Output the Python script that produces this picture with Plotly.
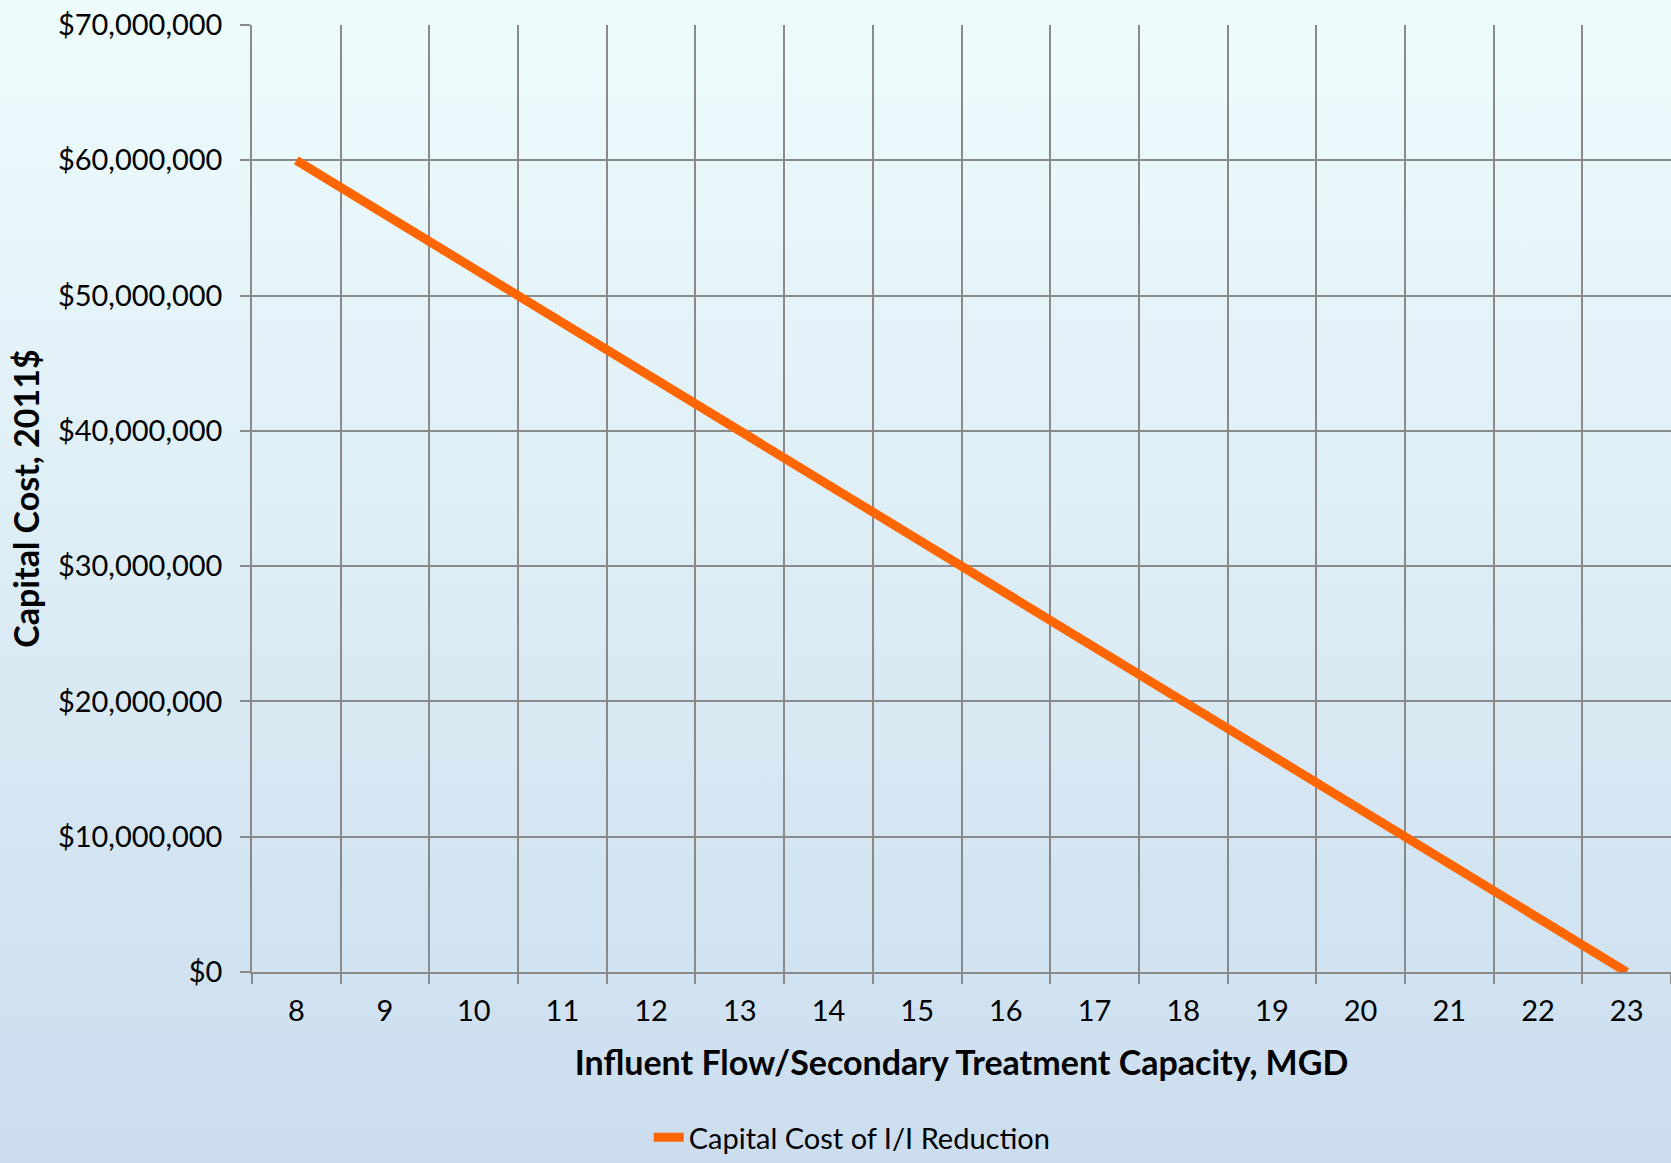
import base64
import plotly.graph_objects as go

# Influent flow (MGD) and corresponding capital cost of I/I reduction (2011$)
flow_mgd = ["8", "9", "10", "11", "12", "13", "14", "15", "16", "17", "18", "19", "20", "21", "22", "23"]
capital_cost = [60_000_000, 56_000_000, 52_000_000, 48_000_000, 44_000_000, 40_000_000,
                36_000_000, 32_000_000, 28_000_000, 24_000_000, 20_000_000, 16_000_000,
                12_000_000, 8_000_000, 4_000_000, 0]
series_name = "Capital Cost of I/I Reduction"

W, H = 1671, 1163
ML, MR, MT, MB = 252, 0, 25, 191
FONT = "Lato"
GRID = "#8a8a8a"
TICK_SIZE = 29
TITLE_SIZE = 34

# vertical background gradient as an inline svg
svg = (
    f'<svg xmlns="http://www.w3.org/2000/svg" width="{W}" height="{H}" preserveAspectRatio="none">'
    '<defs><linearGradient id="g" x1="0" y1="0" x2="0" y2="1">'
    '<stop offset="0" stop-color="#eefcfd"/><stop offset="1" stop-color="#cbddee"/>'
    '</linearGradient></defs>'
    f'<rect width="{W}" height="{H}" fill="url(#g)"/></svg>'
)
bg_src = "data:image/svg+xml;base64," + base64.b64encode(svg.encode()).decode()
pw, ph = W - ML - MR, H - MT - MB

fig = go.Figure()
fig.add_trace(go.Scatter(
    x=flow_mgd, y=capital_cost, mode="lines", name=series_name,
    line=dict(color="#ff6600", width=9),
))

fig.update_layout(
    width=W, height=H,
    margin=dict(l=ML, r=MR, t=MT, b=MB),
    paper_bgcolor="rgba(0,0,0,0)",
    plot_bgcolor="rgba(0,0,0,0)",
    font=dict(family=FONT, size=TICK_SIZE, color="#000000"),
    images=[dict(
        source=bg_src, xref="paper", yref="paper",
        x=-ML / pw, y=1 + MT / ph, sizex=W / pw, sizey=H / ph,
        xanchor="left", yanchor="top", sizing="stretch", layer="below",
    )],
    showlegend=True,
    legend=dict(
        orientation="h", xref="container", yref="container",
        x=0.51, xanchor="center", y=0.0, yanchor="bottom",
        bgcolor="rgba(0,0,0,0)", font=dict(family=FONT, size=TICK_SIZE),
    ),
    xaxis=dict(
        type="category", tickson="boundaries",
        showgrid=True, gridcolor=GRID, gridwidth=1.5,
        ticks="outside", ticklen=10, tickcolor=GRID, tickwidth=1.5,
        showline=True, linecolor=GRID, linewidth=1.5,
        tickfont=dict(family=FONT, size=TICK_SIZE),
        ticklabelstandoff=12,
        title=dict(text="<b>Influent Flow/Secondary Treatment Capacity, MGD</b>",
                   font=dict(family=FONT, size=TITLE_SIZE), standoff=26),
        range=[-0.5, 15.5], fixedrange=True,
    ),
    yaxis=dict(
        range=[0, 70_000_000], dtick=10_000_000,
        tickprefix="$", tickformat=",d",
        showgrid=True, gridcolor=GRID, gridwidth=1.5,
        ticks="outside", ticklen=10, tickcolor=GRID, tickwidth=1.5,
        showline=True, linecolor=GRID, linewidth=1.5, zeroline=False,
        tickfont=dict(family=FONT, size=TICK_SIZE),
        ticklabelstandoff=12,
        title=dict(text="<b>Capital Cost, 2011$</b>",
                   font=dict(family=FONT, size=TITLE_SIZE), standoff=8),
        fixedrange=True,
    ),
)

fig.write_html("out.html")
